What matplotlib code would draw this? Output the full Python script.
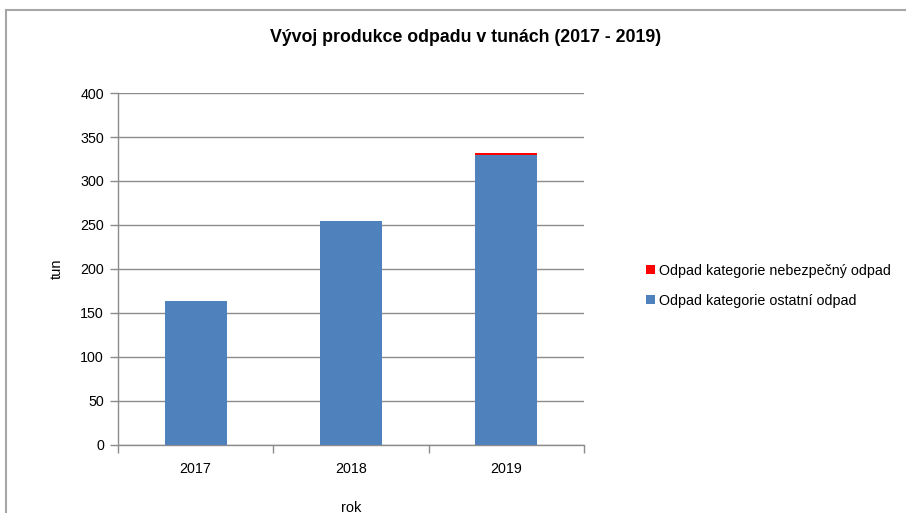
import numpy as np
import matplotlib.pyplot as plt
from matplotlib.lines import Line2D

plt.rcParams['font.family'] = ['Liberation Sans', 'DejaVu Sans']

years      = ['2017', '2018', '2019']
ostatni    = [164, 254, 330]   # Odpad kategorie ostatní odpad
nebezpecny = [0, 0, 2]         # Odpad kategorie nebezpečný odpad
yticks     = [0, 50, 100, 150, 200, 250, 300, 350, 400]

BLUE  = '#4F81BD'
RED   = '#FF0000'
GRID  = '#8C8C8C'
TXT   = '#000000'

fig = plt.figure(figsize=(9.06, 5.13), dpi=100)
ax  = fig.add_axes([0.1302, 0.1326, 0.5144, 0.6861])

x = np.arange(len(years))
b1 = ax.bar(x, ostatni, width=0.4, color=BLUE, zorder=3, label='Odpad kategorie ostatní odpad')
b2 = ax.bar(x, nebezpecny, width=0.4, bottom=ostatni, color=RED, zorder=3,
            label='Odpad kategorie nebezpečný odpad')

ax.set_xlim(-0.5, 2.5)
ax.set_ylim(0, 400)
ax.set_yticks(yticks)
ax.set_xticks(x)
ax.set_xticklabels(years)
ax.set_xticks([-0.5, 0.5, 1.5, 2.5], minor=True)
ax.tick_params(axis='x', which='major', length=0, pad=12, labelsize=10.3, colors=TXT)
ax.tick_params(axis='x', which='minor', length=6, width=1, color=GRID, direction='out')
ax.tick_params(axis='y', length=6, width=1, color=GRID, labelsize=10.3, pad=4)

ax.grid(axis='y', color=GRID, linewidth=1, zorder=0)
for s in ['top', 'right']:
    ax.spines[s].set_visible(False)
for s in ['left', 'bottom']:
    ax.spines[s].set_color(GRID)
    ax.spines[s].set_linewidth(1)

ax.set_ylabel('tun', fontsize=10.5, labelpad=12)
ax.set_xlabel('rok', fontsize=10.5, labelpad=18)

fig.text(0.514, 0.926, 'Vývoj produkce odpadu v tunách (2017 - 2019)',
         ha='center', va='center', fontsize=12.8, fontweight='bold')

fig.legend([b2, b1], [b2.get_label(), b1.get_label()],
           loc='center left', bbox_to_anchor=(0.699, 0.443), frameon=False,
           fontsize=10.3, handlelength=0.6, handleheight=0.6, handletextpad=0.3,
           labelspacing=1.15)

# outer chart frame (left and top edges visible)
fig.add_artist(Line2D([6/906, 6/906], [0, 1 - 10/513], transform=fig.transFigure,
                      color='#A6A6A6', linewidth=1.5))
fig.add_artist(Line2D([6/906, 1], [1 - 10/513, 1 - 10/513], transform=fig.transFigure,
                      color='#A6A6A6', linewidth=1.5))

plt.savefig('out.png', dpi=100)
